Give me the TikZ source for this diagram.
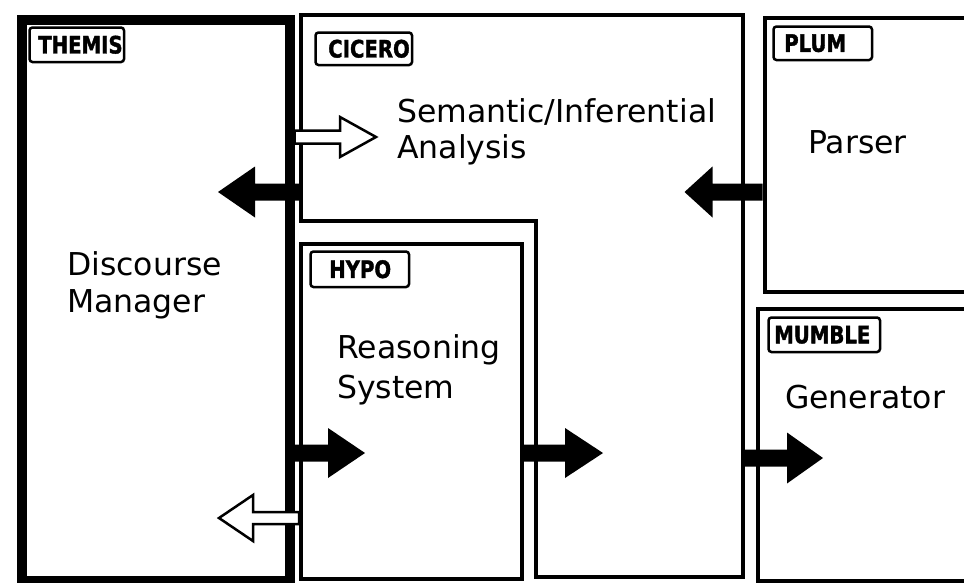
\documentclass[tikz,border=0pt]{standalone}
\usepackage{fontspec}
\setmainfont{DejaVu Sans}
\newfontfamily\tagfont[FakeStretch=0.82,FakeBold=1.5]{DejaVu Sans}
\usetikzlibrary{calc}

\tikzset{
  module/.style={draw=black, line width=4pt, inner sep=0pt, anchor=north west},
  mainmodule/.style={module, line width=10pt},
  tagbox/.style={draw=black, line width=2.5pt, rounded corners=3pt, anchor=north west,
    align=left, inner ysep=0pt, font=\tagfont\bfseries\fontsize{24}{24}\selectfont},
  % multi-line labels are placed by the baseline of their last line
  label/.style={anchor=base west, inner sep=0pt, align=left,
    font=\fontsize{31.5}{#1}\selectfont},
  label/.default=37,
  solidarrow/.style={fill=black},
  hollowarrow/.style={draw=black, fill=white, line width=2.5pt, line join=miter},
  % block arrow: shaft length, head length, shaft half width, head half width, style
  pics/blockarrow/.style n args={5}{code={
    \path[#5] (0,-#3) -- (#1,-#3) -- (#1,-#4) -- ({#1+#2},0) -- (#1,#4)
      -- (#1,#3) -- (0,#3) -- cycle;
  }},
}

\begin{document}
\begin{tikzpicture}[x=1pt,y=-1pt]
\useasboundingbox (0,0) rectangle (964,582);
\clip (0,0) rectangle (964,582);
\fill[white] (0,0) rectangle (964,582);

% modules
\node[mainmodule, minimum width=267.5pt, minimum height=560.5pt] (themis) at (17,15) {};
\coordinate (cic-nw) at (301,15);
\coordinate (cic-ne) at (743,15);
\draw[module] (cic-nw) -- (cic-ne) -- (743,577) -- (536,577) -- (536,220.5)
  -- (301,220.5) -- cycle;
\node[module, minimum width=220.5pt, minimum height=335pt] (hypo) at (299,242) {};
\node[module, minimum width=240pt, minimum height=274.5pt] (plum) at (762.5,15.5) {};
\node[module, minimum width=240pt, minimum height=272pt] (mumble) at (755.5,306.5) {};

% name tags
\node[tagbox, minimum height=34.5pt, inner xsep=8.75pt, text width=77pt] (t-themis) at (28.25,26.25) {THEMIS};
\node[tagbox, minimum height=32.5pt, inner xsep=12.75pt, text width=71pt] (t-cicero) at (314.25,31.25) {CICERO};
\node[tagbox, minimum height=33.5pt, inner xsep=10.75pt, text width=77pt] (t-plum) at (772.25,25.25) {PLUM};
\node[tagbox, minimum height=35.5pt, inner xsep=18.75pt, text width=61pt] (t-hypo) at (309.25,250.25) {HYPO};
\node[tagbox, minimum height=34.5pt, inner xsep=5.75pt, text width=100pt] (t-mumble) at (767.25,316.25) {MUMBLE};

% module descriptions
\node[label=37] (l-themis) at (67,312) {Discourse\\Manager};
\node[label=36] (l-cicero) at (397,158) {Semantic/Inferential\\Analysis};
\node[label] (l-plum) at (808,153) {Parser};
\node[label=40] (l-hypo) at (337,398) {Reasoning\\System};
\node[label] (l-mumble) at (785,408) {Generator};

% information flow
\pic at (themis.east |- 0,137) {blockarrow={45.5}{36}{6.5}{20}{hollowarrow}};
\pic[xscale=-1] at (cic-nw |- 0,192) {blockarrow={46}{37}{8.5}{25.5}{solidarrow}};
\pic[xscale=-1] at (plum.west |- 0,192) {blockarrow={50}{28}{8.5}{25.5}{solidarrow}};
\pic at (themis.east |- 0,453) {blockarrow={33.5}{37}{8.5}{25}{solidarrow}};
\pic[xscale=-1] at (hypo.west |- 0,518) {blockarrow={46}{34}{6}{23}{hollowarrow}};
\pic at (hypo.east |- 0,453) {blockarrow={41.5}{38}{8.5}{25}{solidarrow}};
\pic at ($(cic-ne |- 0,458)+(2,0)$) {blockarrow={42}{36}{8.5}{25.5}{solidarrow}};
\end{tikzpicture}
\end{document}
